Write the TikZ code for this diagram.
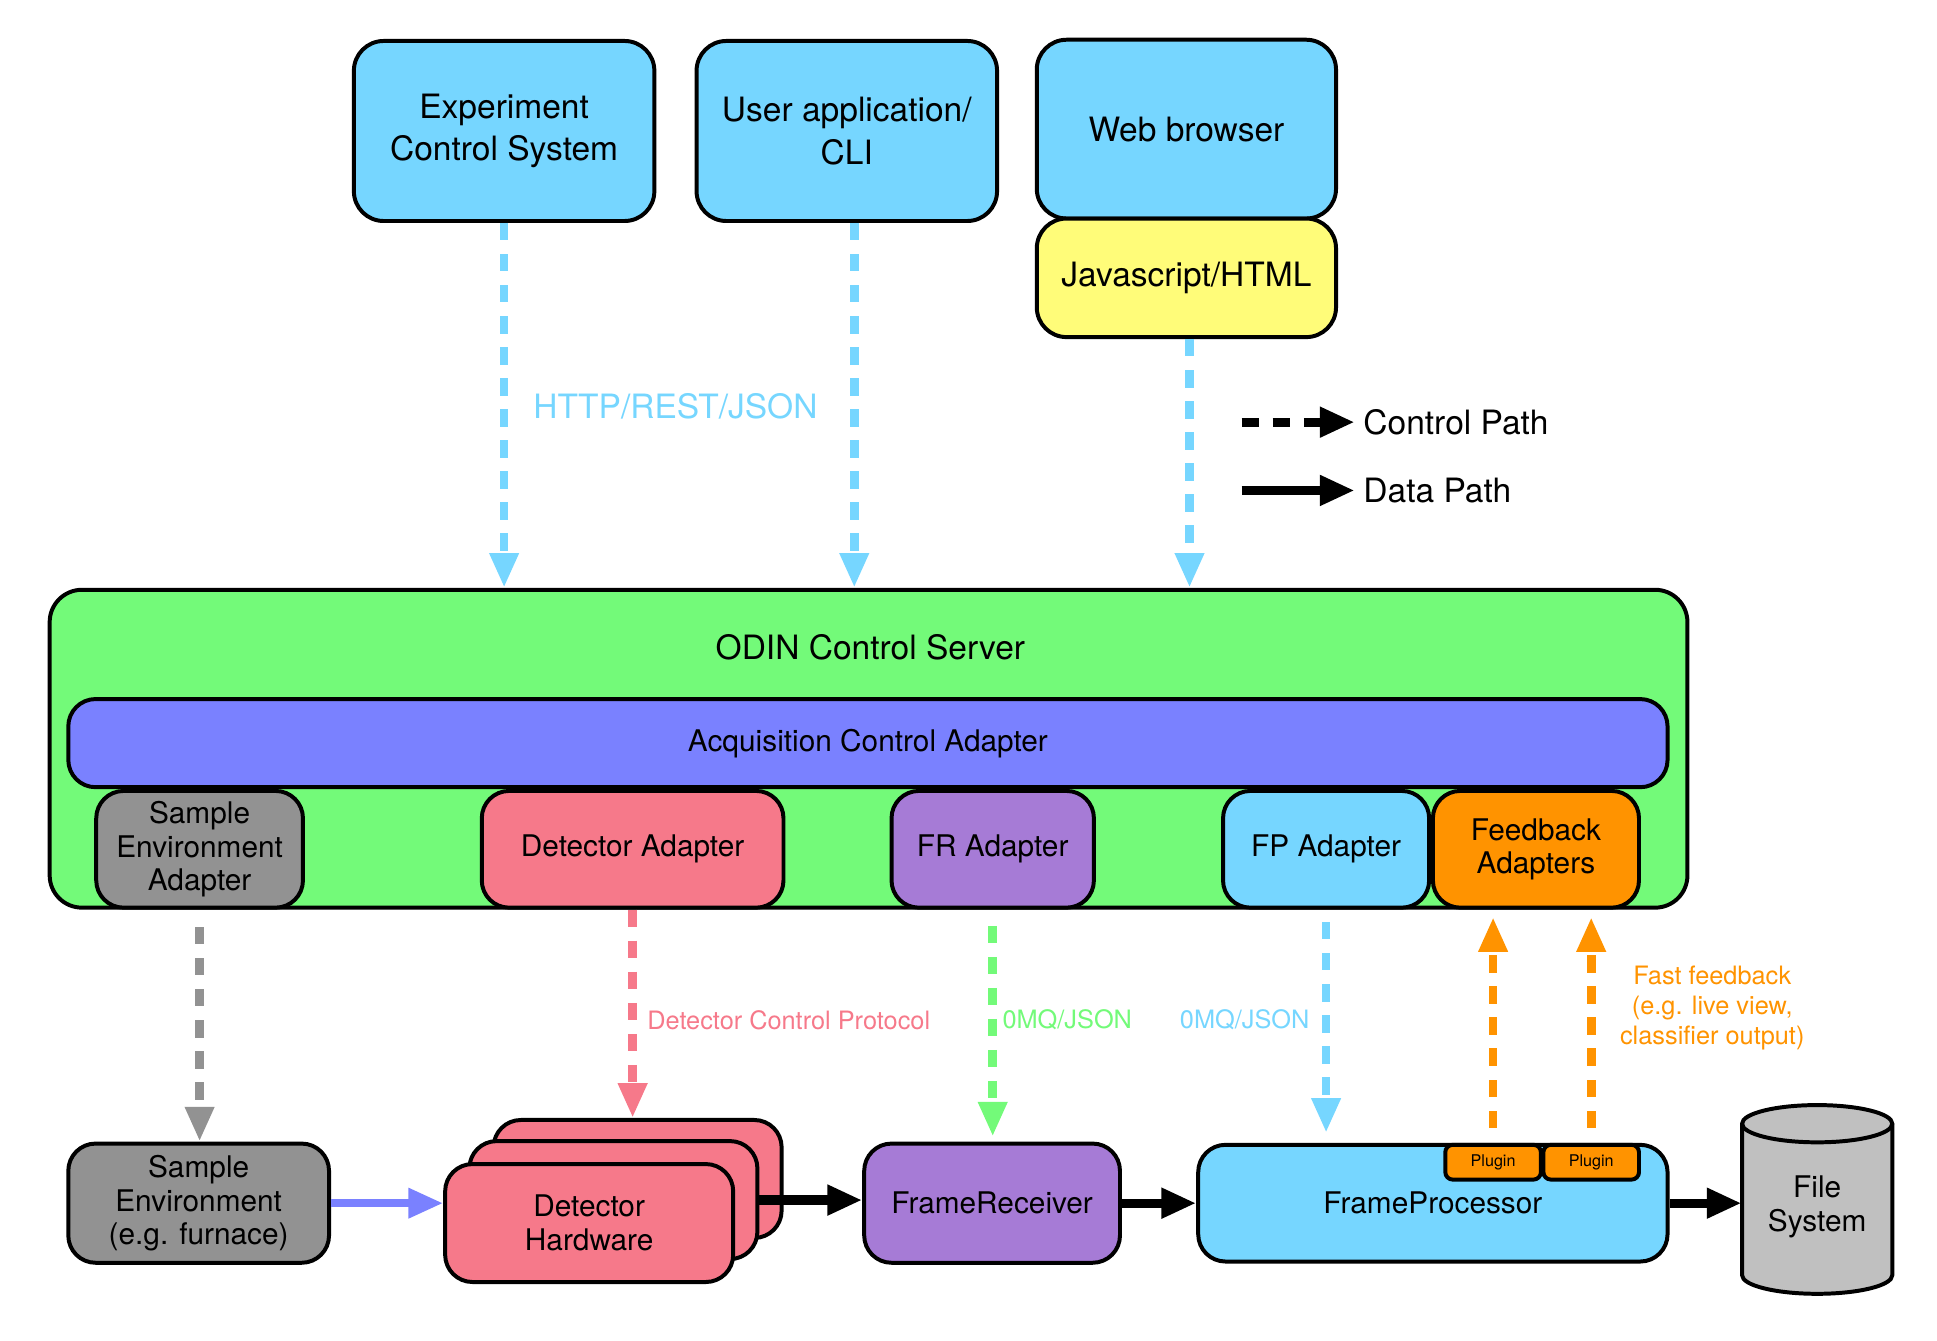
\documentclass[tikz,border=0pt]{standalone}
\usepackage{fontspec}
\setmainfont{TeX Gyre Heros}
\usetikzlibrary{arrows.meta}
\definecolor{sky}{HTML}{76D6FF}
\definecolor{banana}{HTML}{FFFC79}
\definecolor{flora}{HTML}{73FA79}
\definecolor{orchid}{HTML}{7A81FF}
\definecolor{nickel}{HTML}{929292}
\definecolor{salmon}{HTML}{F6798A}
\definecolor{grape}{HTML}{A67BD6}
\definecolor{tangerine}{HTML}{FF9300}
\definecolor{magnesium}{HTML}{C0C0C0}
\tikzset{
	box/.style={draw, line width=1.6pt, rounded corners=11pt, inner sep=0pt, align=center, font=\fontsize{12pt}{13.5pt}\selectfont},
	topbox/.style={box, rounded corners=12pt, font=\fontsize{13.5pt}{17pt}\selectfont},
	ctrl/.style={line width=3.5pt, dash pattern=on 7pt off 5.5pt, -{Triangle[length=14pt,width=11pt]}},
	data/.style={line width=3.7pt, -{Triangle[length=14pt,width=11.5pt]}},
	note/.style={font=\fontsize{10.2pt}{12pt}\selectfont}
}

\begin{document}
\begin{tikzpicture}[x=0.5pt, y=-0.5pt]
		%%%%% START %%%%%
		\useasboundingbox (0,0) rectangle (1560,1080);
		
		% clients
		\node[topbox, fill=sky, minimum width=121pt, minimum height=72.5pt] (ecs) at (406,105.5) {Experiment\\Control System};
		\node[topbox, fill=sky, minimum width=121pt, minimum height=72.5pt] (uapp) at (682,105.5) {User application/\\CLI};
		\node[topbox, fill=sky, minimum width=120.5pt, minimum height=72pt] (web) at (955.5,104) {Web browser};
		\node[topbox, fill=banana, minimum width=120.5pt, minimum height=47.75pt] (js) at (955.5,223.75) {Javascript/HTML};
		
		% server
		\node[box, fill=flora, rounded corners=13pt, minimum width=659.5pt, minimum height=128pt] (odin) at (699.5,603) {};
		\node[font=\fontsize{13.5pt}{17pt}\selectfont] (odintitle) at (701,521) {ODIN Control Server};
		\node[box, fill=orchid, minimum width=644pt, minimum height=35.5pt] (acq) at (699,598.5) {Acquisition Control Adapter};
		\node[box, fill=nickel, minimum width=83.25pt, minimum height=47pt] (sea) at (160.75,684) {Sample\\Environment\\Adapter};
		\node[box, fill=salmon, minimum width=121.5pt, minimum height=47pt] (deta) at (509.5,684) {Detector Adapter};
		\node[box, fill=grape, minimum width=81.5pt, minimum height=47pt] (fra) at (799.5,684) {FR Adapter};
		\node[box, fill=sky, minimum width=83pt, minimum height=47pt] (fpa) at (1068,684) {FP Adapter};
		\node[box, fill=tangerine, minimum width=83pt, minimum height=47pt] (fba) at (1237,684) {Feedback\\Adapters};
		
		% hardware and data chain
		\node[box, fill=nickel, minimum width=105pt, minimum height=48pt] (senv) at (160,969) {Sample\\Environment\\(e.g. furnace)};
		\node[box, fill=salmon, minimum width=116pt, minimum height=47.5pt] (dethwc) at (513.5,949.5) {};
		\node[box, fill=salmon, minimum width=116pt, minimum height=47.5pt] (dethwb) at (494,966.5) {};
		\node[box, fill=salmon, minimum width=116pt, minimum height=47.5pt] (dethw) at (474.5,985) {Detector\\Hardware};
		\node[box, fill=grape, minimum width=103pt, minimum height=48pt] (frx) at (799,969) {FrameReceiver};
		\node[box, fill=sky, minimum width=189pt, minimum height=47pt] (fp) at (1154,969) {FrameProcessor};
		\node[box, fill=tangerine, rounded corners=3pt, minimum width=38.5pt, minimum height=14pt, font=\fontsize{6.5pt}{8pt}\selectfont] (plugA) at (1202.5,936) {Plugin};
		\node[box, fill=tangerine, rounded corners=3pt, minimum width=38.5pt, minimum height=14pt, font=\fontsize{6.5pt}{8pt}\selectfont] (plugB) at (1281.5,936) {Plugin};
		
		\draw[fill=magnesium, line width=1.6pt] (1403,905) -- (1403,1027) arc[start angle=180, end angle=360, x radius=30.25pt, y radius=7.5pt] -- (1524,905) arc[start angle=0, end angle=180, x radius=30.25pt, y radius=7.5pt] -- cycle;
		\draw[line width=1.6pt] (1403,905) arc[start angle=180, end angle=360, x radius=30.25pt, y radius=7.5pt];
		\node[minimum width=60.5pt, minimum height=62pt, inner sep=0pt, align=center, font=\fontsize{12pt}{13.5pt}\selectfont] (fs) at (1463.5,972) {File\\System};
		
		% control paths
		\draw[ctrl, sky] (ecs.south) -- (ecs.south |- odin.north);
		\draw[ctrl, sky] ([xshift=3pt]uapp.south) -- ([xshift=3pt]uapp.south |- odin.north);
		\draw[ctrl, sky] ([xshift=1.25pt]js.south) -- ([xshift=1.25pt]js.south |- odin.north);
		\node[sky, font=\fontsize{13.5pt}{17pt}\selectfont] (httplbl) at (544,327) {HTTP/REST/JSON};
		
		\draw[ctrl, nickel, shorten <=7pt] (sea.south) -- (sea.south |- senv.north);
		\draw[ctrl, salmon] (deta.south) -- (deta.south |- dethwc.north);
		\draw[ctrl, flora, shorten <=6.5pt, shorten >=2pt] (fra.south) -- (fra.south |- frx.north);
		\draw[ctrl, sky, shorten <=5pt, shorten >=4pt] (fpa.south) -- (fpa.south |- fp.north);
		\draw[ctrl, tangerine, shorten <=6pt, shorten >=3pt] (plugA.north) -- (plugA.north |- fba.south);
		\draw[ctrl, tangerine, shorten <=6pt, shorten >=3pt] (plugB.north) -- (plugB.north |- fba.south);
		
		\node[note, salmon, anchor=west, inner sep=0pt] (dcplbl) at (521,822) {Detector Control Protocol};
		\node[note, flora, anchor=west, inner sep=0pt] (frlbl) at (807,821) {0MQ/JSON};
		\node[note, sky, anchor=east, inner sep=0pt] (fplbl) at (1055,821) {0MQ/JSON};
		\node[note, tangerine, align=center, inner sep=0pt] (fblbl) at (1379,812) {Fast feedback\\(e.g. live view,\\classifier output)};
		
		% data paths
		\draw[data, orchid, line width=3.2pt] (senv.east) -- (senv.east -| dethw.west);
		\draw[data] (dethwb.east) -- (dethwb.east -| frx.west);
		\draw[data] (frx.east) -- (fp.west);
		\draw[data] (fp.east) -- (fp.east -| fs.west);
		
		% legend
		\coordinate (ctrlkey) at (1000,340);
		\coordinate (datakey) at (1000,395);
		\node[anchor=west, font=\fontsize{13.5pt}{17pt}\selectfont] (ctrltext) at (1091,340) {Control Path};
		\node[anchor=west, font=\fontsize{13.5pt}{17pt}\selectfont] (datatext) at (1091,395) {Data Path};
		\draw[ctrl, line width=3.7pt, -{Triangle[length=14pt,width=11.5pt]}] (ctrlkey) -- (ctrltext.west);
		\draw[data] (datakey) -- (datatext.west);
		%%%%% END %%%%%
\end{tikzpicture}
\end{document}
